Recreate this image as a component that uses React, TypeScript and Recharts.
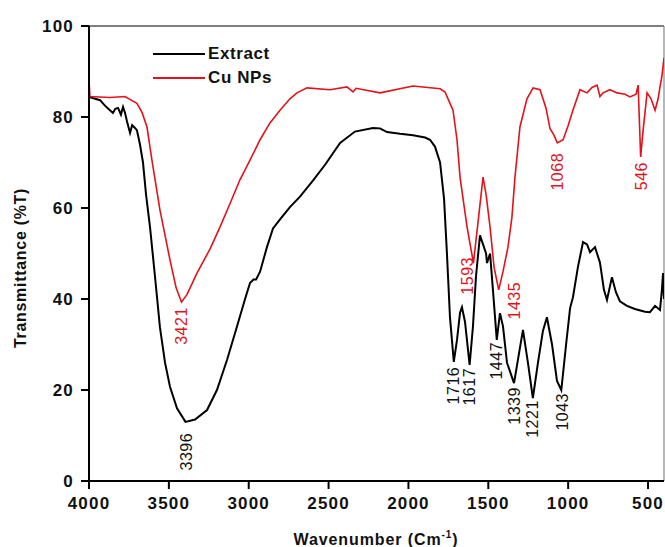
import React from 'react'
import { LineChart, Line, XAxis, YAxis, ReferenceLine, ReferenceDot } from 'recharts';

// FTIR spectra: [wavenumber, %T]
const extractWn = [4000, 3962, 3931, 3900, 3869, 3850, 3835, 3818, 3800, 3787, 3775, 3762, 3743, 3730, 3718, 3700, 3681, 3662, 3643, 3618, 3587, 3556, 3524, 3493, 3449, 3396, 3336, 3261, 3199, 3136, 3073, 3023, 2992, 2970, 2954, 2929, 2886, 2848, 2804, 2742, 2679, 2598, 2522, 2428, 2335, 2222, 2178, 2134, 2053, 1971, 1896, 1865, 1834, 1802, 1777, 1759, 1740, 1716, 1696, 1677, 1665, 1646, 1617, 1596, 1577, 1552, 1533, 1514, 1508, 1489, 1471, 1447, 1427, 1408, 1383, 1339, 1308, 1283, 1252, 1221, 1189, 1158, 1133, 1101, 1070, 1043, 1013, 988, 970, 939, 907, 882, 863, 832, 801, 776, 757, 726, 701, 676, 632, 582, 519, 488, 456, 425, 413, 406, 400];
const extractT = [84.4, 84, 83.7, 82.5, 81.5, 80.9, 81.8, 82, 80.5, 82.2, 81, 79, 76.5, 78.2, 77.8, 77.1, 74, 70, 63, 55.8, 45, 33.8, 26, 20.7, 16, 13, 13.5, 15.6, 20, 26.6, 34, 40, 43.5, 44.3, 44.3, 46, 51.4, 55.5, 57.5, 60.2, 62.5, 66, 69.5, 74.3, 76.8, 77.6, 77.5, 76.7, 76.3, 76, 75.5, 75, 73.5, 70, 62, 50, 36, 26.2, 31, 37, 38.2, 35, 25.5, 34, 45, 54, 52, 50, 47.9, 50, 42, 31, 36.9, 34, 26, 21.5, 28, 33.2, 26, 18.2, 26, 33, 36, 30, 22, 20, 30, 38, 40.4, 47, 52.5, 52, 50.3, 51.4, 48, 42, 39.8, 44.8, 41.5, 39.5, 38.5, 37.8, 37.2, 37.1, 38.5, 37.6, 42, 45.7, 40];

const cuWn = [4000, 3994, 3869, 3775, 3700, 3668, 3637, 3606, 3556, 3493, 3455, 3421, 3386, 3324, 3242, 3180, 3117, 3055, 2992, 2929, 2867, 2804, 2742, 2698, 2635, 2491, 2385, 2347, 2328, 2178, 1971, 1802, 1771, 1740, 1721, 1696, 1677, 1633, 1593, 1564, 1533, 1514, 1489, 1464, 1435, 1408, 1377, 1352, 1333, 1302, 1258, 1220, 1176, 1139, 1114, 1089, 1068, 1032, 1001, 970, 926, 882, 851, 819, 801, 782, 738, 694, 644, 613, 575, 562, 546, 531, 506, 481, 456, 437, 425, 413, 400];
const cuT = [88, 84.5, 84.3, 84.5, 83, 81, 77.8, 70.5, 59.6, 48.6, 42.5, 39.3, 41, 45.7, 51, 55.8, 61, 66.2, 70.5, 75, 78.7, 81.5, 84, 85.3, 86.4, 86, 86.6, 85.5, 86.3, 85.3, 86.8, 86.2, 85.5, 83, 81.5, 75, 66.8, 55.8, 47.9, 57, 66.8, 63, 55.8, 47, 42, 46, 51.4, 58, 66.8, 77.8, 84, 86.4, 86, 82, 77.5, 76, 74.3, 75, 78, 81.5, 86, 85.3, 86.5, 87, 84.5, 85.3, 86, 85.3, 85, 84.4, 85, 87, 71.2, 77, 85.3, 84, 81.5, 84, 86.6, 89, 93];

const extractPeakWn = [3396, 1716, 1617, 1447, 1339, 1221, 1043];
const extractPeakT = [13, 26.2, 25.5, 31, 21.5, 18.2, 20];
const cuPeakWn = [3421, 1593, 1435, 1068, 546];
const cuPeakT = [39.3, 47.9, 42, 74.3, 71.2];

const xTicks = [4000, 3500, 3000, 2500, 2000, 1500, 1000, 500];
const yTicks = [0, 20, 40, 60, 80, 100];

const extractData = extractWn.map((wn, i) => ({ wn, t: extractT[i] }));
const cuData = cuWn.map((wn, i) => ({ wn, t: cuT[i] }));

// label offsets (px) from the peak point: [dx, top]
const labelOffsets: Record<number, [number, number]> = {
    3396: [1.5, 11], 1716: [0, 5], 1617: [0, 3], 1447: [0, 2], 1339: [0, 4], 1221: [0, 2], 1043: [1, 3],
    3421: [0, 5], 1593: [-6, -6], 1435: [16, -8], 1068: [0, 10], 546: [1, 5],
};

const FONT = '"Liberation Sans", Arial, sans-serif';
const RED = '#e3121b';

const peakLabel = (wn: number, color: string) => (props: any) => {
    const vb = props.viewBox || {};
    const cx = vb.x + (vb.width || 0) / 2;
    const cy = vb.y + (vb.height || 0) / 2;
    const [dx, top] = labelOffsets[wn] || [0, 4];
    return (
        <text
            transform={`translate(${cx + dx + 5.5},${cy + top}) rotate(-90)`}
            textAnchor="end"
            fontSize={16}
            letterSpacing={0.5}
            fontFamily={FONT}
            fill={color}
        >
            {wn}
        </text>
    );
};

const LegendBox = () => {
    const rows = [{ name: 'Extract', color: '#000' }, { name: 'Cu NPs', color: RED }];
    return (
        <div style={{ position: 'absolute', left: 150, top: 42, fontFamily: FONT }}>
            {rows.map((r) => (
                <div key={r.name} style={{ height: 24, display: 'flex', alignItems: 'center' }}>
                    <svg width={56} height={24}>
                        <line x1={3} x2={55} y1={12} y2={12} stroke={r.color} strokeWidth={2} />
                    </svg>
                    <span style={{ fontWeight: 'bold', fontSize: 17, letterSpacing: 0.6, marginLeft: 2, color: '#111' }}>{r.name}</span>
                </div>
            ))}
        </div>
    );
};

const App = () => {
    const tickStyle = { fontSize: 17, fontWeight: 'bold', fill: '#111', fontFamily: FONT, letterSpacing: 1.2 };
    return (
        <div style={{ position: 'absolute', left: 0, top: 0, width: 665, height: 547, background: '#fff' }}>
            <LineChart width={665} height={547} margin={{ top: 26, right: 1, left: 29, bottom: 26 }}>
                <XAxis
                    type="number"
                    dataKey="wn"
                    domain={[400, 4000]}
                    reversed
                    allowDataOverflow
                    ticks={xTicks}
                    height={40}
                    tickSize={8}
                    tickMargin={8}
                    tick={tickStyle}
                    axisLine={{ stroke: '#000', strokeWidth: 2 }}
                    tickLine={{ stroke: '#000', strokeWidth: 2 }}
                    label={{
                        content: () => (
                            <text x={376} y={545} textAnchor="middle" fontFamily={FONT} fontWeight="bold" fontSize={16} letterSpacing={0.9} fill="#111">
                                Wavenumber (Cm
                                <tspan dy={-7} fontSize={10}>-1</tspan>
                                <tspan dy={7}>)</tspan>
                            </text>
                        ),
                    }}
                />
                <YAxis
                    type="number"
                    domain={[0, 100]}
                    ticks={yTicks}
                    width={60}
                    tickSize={8}
                    tickMargin={7}
                    tick={tickStyle}
                    axisLine={{ stroke: '#000', strokeWidth: 2 }}
                    tickLine={{ stroke: '#000', strokeWidth: 2 }}
                    label={{
                        content: () => (
                            <text transform="translate(26,268) rotate(-90)" textAnchor="middle" fontFamily={FONT} fontWeight="bold" fontSize={16} letterSpacing={0.7} fill="#111">
                                Transmittance (%T)
                            </text>
                        ),
                    }}
                />
                <ReferenceLine y={100} stroke="#555" strokeWidth={1.5} />
                <ReferenceLine x={400} stroke="#888" strokeWidth={1.2} />
                <Line data={extractData} dataKey="t" name="Extract" type="linear" stroke="#000" strokeWidth={2} dot={false} isAnimationActive={false} />
                <Line data={cuData} dataKey="t" name="Cu NPs" type="linear" stroke={RED} strokeWidth={1.6} dot={false} isAnimationActive={false} />
                {extractPeakWn.map((wn, i) => (
                    <ReferenceDot key={'e' + wn} x={wn} y={extractPeakT[i]} r={1} fill="none" stroke="none" label={{ content: peakLabel(wn, '#111') }} />
                ))}
                {cuPeakWn.map((wn, i) => (
                    <ReferenceDot key={'c' + wn} x={wn} y={cuPeakT[i]} r={1} fill="none" stroke="none" label={{ content: peakLabel(wn, RED) }} />
                ))}
            </LineChart>
            <LegendBox />
        </div>
    );
};

export default App;
